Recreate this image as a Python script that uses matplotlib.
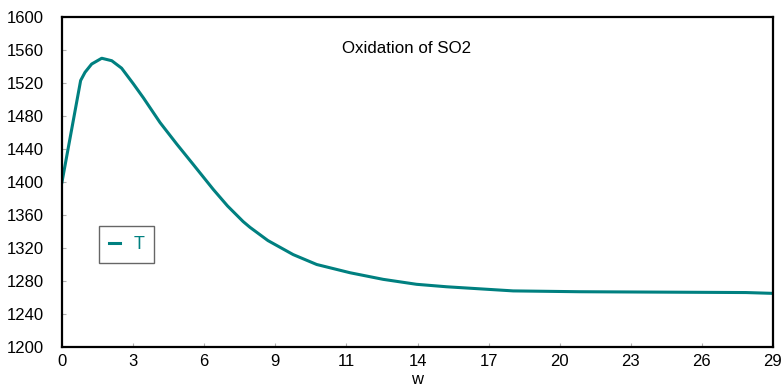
import numpy as np
import matplotlib
matplotlib.use('Agg')
import matplotlib.pyplot as plt

plt.rcParams['font.family'] = ['Liberation Sans', 'DejaVu Sans']

# w along the reactor, temperature T
w = [0, 0.76, 0.94, 1.21, 1.62, 2.03, 2.43, 2.91, 3.32, 4.0, 4.68, 5.36,
     6.17, 6.75, 7.39, 7.67, 8.4, 9.43, 10.39, 11.75, 13.1, 14.46, 15.69,
     18.4, 21.1, 27.9, 29]
T = [1400, 1523, 1533, 1543, 1550, 1547, 1538, 1519, 1502, 1472, 1446, 1421,
     1391, 1371, 1352, 1345, 1329, 1312, 1300, 1290, 1282, 1276, 1273,
     1268, 1267, 1266, 1265]

x_labels = ['0', '3', '6', '9', '11', '14', '17', '20', '23', '26', '29']
y_ticks = [1200, 1240, 1280, 1320, 1360, 1400, 1440, 1480, 1520, 1560, 1600]

teal = '#008080'

fig = plt.figure(figsize=(7.84, 3.87), dpi=100)
ax = fig.add_axes([62 / 784, 1 - 347 / 387, (773 - 62) / 784, (347 - 17) / 387])

ax.plot(w, T, color=teal, linewidth=2.2, label='T')

ax.set_xlim(0, 29)
ax.set_ylim(1200, 1600)
ax.set_xticks(np.linspace(0, 29, len(x_labels)))
ax.set_xticklabels(x_labels)
ax.set_yticks(y_ticks)
ax.tick_params(direction='in', length=3, width=0.8, color='#b0b0b0',
               labelsize=12)
ax.tick_params(axis='y', pad=13)
ax.tick_params(axis='x', pad=5)
for s in ax.spines.values():
    s.set_linewidth(1.6)
    s.set_color('black')

ax.set_xlabel('w', fontsize=12, labelpad=2)
ax.text(0.485, 0.891, 'Oxidation of SO2', transform=ax.transAxes,
        ha='center', va='baseline', fontsize=12.2)

leg = ax.legend(loc='upper left', bbox_to_anchor=(37 / 711, (347 - 226) / 330),
                frameon=True, fancybox=False, handlelength=0.6,
                handletextpad=0.75, borderpad=0.55, borderaxespad=0,
                fontsize=13)
leg.get_frame().set_edgecolor('#404040')
leg.get_frame().set_linewidth(1.0)
for t in leg.get_texts():
    t.set_color(teal)

fig.savefig('out.png', dpi=100)
